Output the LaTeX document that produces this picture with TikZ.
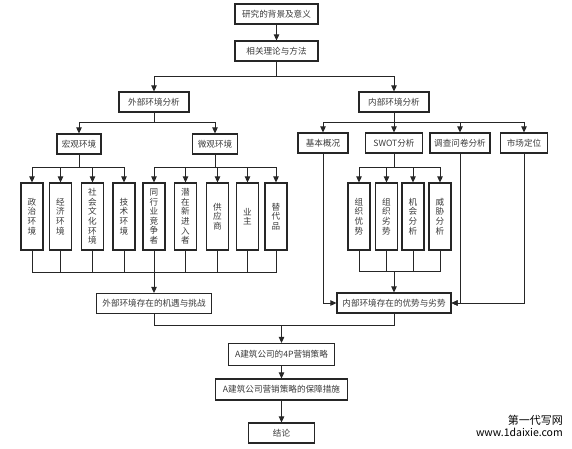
\documentclass[tikz,border=0pt]{standalone}
\usepackage{fontspec}
\setmainfont{Noto Sans CJK SC}
\usetikzlibrary{arrows.meta,positioning}
\definecolor{Ink}{HTML}{3A3A3A}
\definecolor{Frame}{HTML}{262626}

\begin{document}
\begin{tikzpicture}[x=1pt,y=-1pt,
    every node/.style={font=\fontsize{8.6}{9.6}\selectfont,align=center,text=Ink,inner sep=0pt},
    box/.style={draw=Frame,line width=1.2pt,minimum height=20pt},
    vbox/.style={draw=Frame,line width=1.2pt,minimum width=22pt,minimum height=67pt},
    link/.style={draw=Frame,line width=1pt},
    arr/.style={link,-{Triangle[length=6pt,width=5.5pt]}}]
    \useasboundingbox (0,0) rectangle (572,448);
    % top of the chain
    \node[box,minimum width=83pt] (bg) at (276.5,14) {研究的背景及意义};
    \node[box,minimum width=83pt] (theory) at (276.5,51) {相关理论与方法};
    \node[box,minimum width=70pt] (ext) at (154,102) {外部环境分析};
    \node[box,minimum width=70pt] (int) at (394,102) {内部环境分析};
    % external side
    \node[box,minimum width=44pt] (macro) at (79,144) {宏观环境};
    \node[box,minimum width=45pt] (micro) at (215,144) {微观环境};
    \node[vbox] (pol) at (32,216.5) {政\\治\\环\\境};
    \node[vbox] (eco) at (60.5,216.5) {经\\济\\环\\境};
    \node[vbox] (soc) at (92.5,216.5) {社\\会\\文\\化\\环\\境};
    \node[vbox] (tec) at (124,216.5) {技\\术\\环\\境};
    \node[vbox] (peer) at (154,216.5) {同\\行\\业\\竞\\争\\者};
    \node[vbox] (entr) at (185.5,216.5) {潜\\在\\新\\进\\入\\者};
    \node[vbox] (supp) at (217.5,216.5) {供\\应\\商};
    \node[vbox] (own) at (247.5,216.5) {业\\主};
    \node[vbox] (subs) at (276,216.5) {替\\代\\品};
    \node[box,minimum width=115pt] (extout) at (154,303.5) {外部环境存在的机遇与挑战};
    % internal side
    \node[box,minimum width=50pt] (basic) at (323,143) {基本概况};
    \node[box,minimum width=57pt] (swot) at (394,143) {SWOT分析};
    \node[box,minimum width=60pt] (survey) at (460,143) {调查问卷分析};
    \node[box,minimum width=47pt] (market) at (524,143) {市场定位};
    \node[vbox] (str) at (359,216.5) {组\\织\\优\\势};
    \node[vbox] (wea) at (386.5,216.5) {组\\织\\劣\\势};
    \node[vbox] (opp) at (413,216.5) {机\\会\\分\\析};
    \node[vbox] (thr) at (440,216.5) {威\\胁\\分\\析};
    \node[box,minimum width=114pt] (intout) at (394,303) {内部环境存在的优势与劣势};
    % bottom of the chain
    \node[box,minimum width=106pt,minimum height=22pt] (plan) at (281.5,354.5) {A建筑公司的4P营销策略};
    \node[box,minimum width=132pt,minimum height=21pt] (guar) at (281.5,389.5) {A建筑公司营销策略的保障措施};
    \node[box,minimum width=66pt] (concl) at (281.5,433) {结论};
    % watermark
    \node[anchor=north east,text=black,font=\fontsize{11}{12}\selectfont] (wmark) at (563,415) {第一代写网};
    \node[anchor=north east,text=black,font=\fontsize{10.5}{12}\selectfont] (wmurl) at (563,428) {www.1daixie.com};

    \draw[arr] (bg) -- (theory);
    \path (theory.south) ++(0,15) coordinate (forkT);
    \draw[link] (theory.south) -- (forkT);
    \draw[arr] (forkT) -| (ext);
    \draw[arr] (forkT) -| (int);
    % fan out
    \path (ext.south) ++(0,10) coordinate (forkE);
    \draw[link] (ext.south) -- (forkE);
    \draw[arr] (forkE) -| (macro);
    \draw[arr] (forkE) -| (micro);
    \path (macro.south) ++(0,13) coordinate (forkMa);
    \draw[link] (macro.south) -- (forkMa);
    \foreach \n in {pol,eco,soc,tec} \draw[arr] (forkMa) -| (\n);
    \path (micro.south) ++(0,13) coordinate (forkMi);
    \draw[link] (micro.south) -- (forkMi);
    \foreach \n in {peer,entr,supp,own,subs} \draw[arr] (forkMi) -| (\n);
    \path (int.south) ++(0,10) coordinate (forkI);
    \draw[link] (int.south) -- (forkI);
    \foreach \n in {basic,swot,survey,market} \draw[arr] (forkI) -| (\n);
    \path (swot.south) ++(0,14) coordinate (forkS);
    \draw[link] (swot.south) -- (forkS);
    \foreach \n in {str,wea,opp,thr} \draw[arr] (forkS) -| (\n);
    % collect
    \path (peer.south) ++(0,22) coordinate (joinE);
    \foreach \n in {pol,eco,soc,tec,peer,entr,supp,own,subs} \draw[link] (\n.south) |- (joinE);
    \draw[arr] (joinE) -- (extout);
    \path (intout.north) ++(0,-21) coordinate (joinI);
    \foreach \n in {str,wea,opp,thr} \draw[link] (\n.south) |- (joinI);
    \draw[arr] (joinI) -- (intout);
    \draw[arr] (basic) |- (intout);
    \draw[arr] (survey) |- (intout);
    \draw[arr] (market) |- (intout);
    \path (plan.north) ++(0,-17) coordinate (joinB);
    \draw[link] (extout) |- (joinB);
    \draw[link] (intout) |- (joinB);
    \draw[arr] (joinB) -- (plan);
    \draw[arr] (plan) -- (guar);
    \draw[arr] (guar) -- (concl);
\end{tikzpicture}
\end{document}
